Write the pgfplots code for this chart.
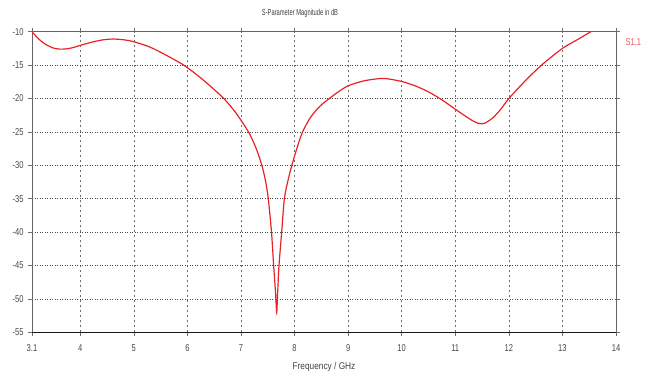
\documentclass[border=0pt]{standalone}
\usepackage{fontspec}
\setmainfont{Liberation Sans}
\newfontfamily\tickfont[FakeStretch=0.76]{Liberation Sans}
\newfontfamily\titlefont[FakeStretch=0.66]{Liberation Sans}
\newfontfamily\labfont[FakeStretch=0.85]{Liberation Sans}
\usepackage{pgfplots}
\pgfplotsset{compat=1.18}
\definecolor{sred}{RGB}{232,32,40}
\definecolor{gridv}{RGB}{110,110,110}
\definecolor{gridh}{RGB}{70,70,70}
\newcommand\tfont{\tickfont\fontsize{10}{11}\selectfont}
\begin{document}
\begin{tikzpicture}[x=1bp,y=1bp]
\useasboundingbox (0,0) rectangle (657,379);
\begin{axis}[
  at={(32bp,46.7bp)}, anchor=south west,
  width=584bp, height=300.6bp, scale only axis,
  xmin=3.1, xmax=14, ymin=-55, ymax=-10,
  xtick={3.1,4,5,6,7,8,9,10,11,12,13,14},
  xticklabels={3.1,4,5,6,7,8,9,10,11,12,13,14},
  ytick={-55,-50,-45,-40,-35,-30,-25,-20,-15,-10},
  /pgf/number format/assume math mode=true,
  tick label style={font=\tfont, text=black!72},
  xticklabel style={yshift=-5bp},
  yticklabel style={xshift=-1bp},
  tick align=outside, major tick length=4bp,
  tick style={gridv, line width=0.6pt},
  xmajorgrids, ymajorgrids,
  x grid style={gridv, dash pattern=on 2.5bp off 2.5bp, line width=0.6pt},
  y grid style={gridh, dash pattern=on 1bp off 1.5bp, line width=0.6pt},
  axis line style={draw=black!60, line width=0.8pt},
  clip=true,
]
\addplot[sred, line width=1.2pt, smooth, tension=0.45] coordinates {
(3.1,-10.0) (3.2,-10.9) (3.3,-11.6) (3.4,-12.1) (3.5,-12.45) (3.6,-12.6)
(3.7,-12.6) (3.8,-12.5) (3.9,-12.3) (4.0,-12.05) (4.2,-11.6) (4.4,-11.25)
(4.6,-11.1) (4.8,-11.2) (5.0,-11.5) (5.3,-12.3) (5.6,-13.5) (5.93,-15.0)
(6.2,-16.6) (6.45,-18.3) (6.68,-20.0) (6.9,-22.1) (7.14,-25.0)
(7.28,-27.4) (7.39,-30.0) (7.46,-32.4) (7.51,-35.0) (7.57,-40.0) (7.61,-45.0)
(7.645,-49) (7.667,-52.0) (7.685,-49) (7.71,-45.0) (7.76,-40.0) (7.81,-35.0)
(7.88,-32.2) (7.95,-30.0) (8.05,-27.3) (8.15,-25.0) (8.3,-22.8) (8.48,-21.1)
(8.65,-20.0) (8.8,-19.1) (9.0,-18.1) (9.3,-17.35) (9.66,-17.0) (10.0,-17.45)
(10.25,-18.1) (10.5,-19.0) (10.75,-20.2) (11.0,-21.6) (11.2,-22.7) (11.35,-23.45)
(11.45,-23.75) (11.55,-23.7) (11.7,-22.9) (11.85,-21.6) (12.0,-20.0) (12.3,-17.4)
(12.61,-15.0) (13.0,-12.5) (13.3,-11.1) (13.53,-10.0) (13.7,-9.2)
};
\draw[black!90, line width=1.1pt] (rel axis cs:0,0) -- (rel axis cs:1,0);
\end{axis}
\node[font=\titlefont\fontsize{8.8}{10}\selectfont, text=black!75] at (300,366) {S-Parameter Magnitude in dB};
\node[font=\labfont\fontsize{9.8}{11}\selectfont, text=black!75] at (324,12) {Frequency / GHz};
\node[font=\tickfont\fontsize{10}{11}\selectfont, text=sred!75, anchor=west] at (622,336) {S1,1};
\end{tikzpicture}
\end{document}
